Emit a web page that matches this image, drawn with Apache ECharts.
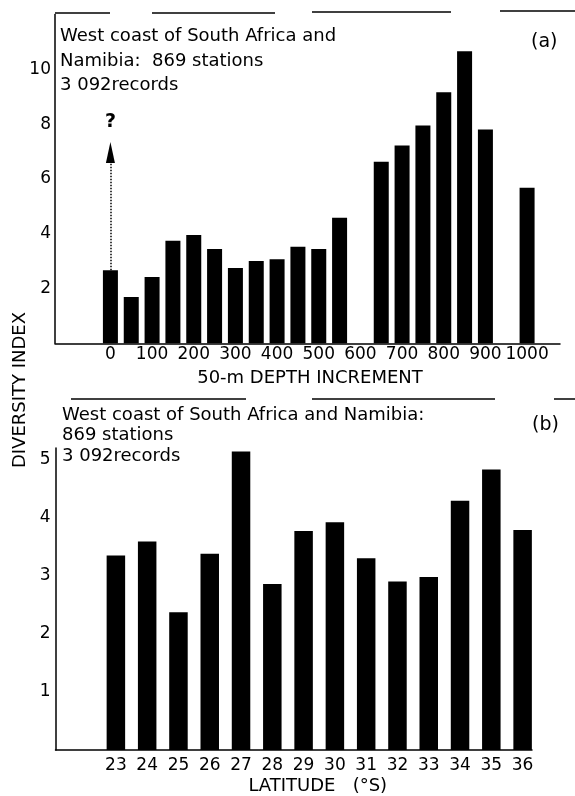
<!DOCTYPE html>
<html>
<head>
<meta charset="utf-8">
<script src="https://cdn.jsdelivr.net/npm/echarts@6/dist/echarts.min.js"></script>
<style>
  html, body { margin: 0; padding: 0; background: #fff; }
  #chart { width: 575px; height: 796px; }
</style>
</head>
<body>
<div id="chart"></div>
<script>
// (a) diversity index per 50-m depth increment
const depths = [0, 50, 100, 150, 200, 250, 300, 350, 400, 450, 500, 550, 600, 650, 700, 750, 800, 850, 900, 950, 1000]
const depthIndex = [2.67, 1.69, 2.42, 3.74, 3.95, 3.44, 2.75, 3.0, 3.07, 3.52, 3.44, 4.58, null, 6.63, 7.22, 7.95, 9.16, 10.66, 7.8, null, 5.68]
const depthLabels = [0, 100, 200, 300, 400, 500, 600, 700, 800, 900, 1000]
const depthYLabels = [2, 4, 6, 8, 10]
const arrowTop = 7.35 // the "?" arrow above the first bar

// (b) diversity index per degree of latitude
const latitudes = [23, 24, 25, 26, 27, 28, 29, 30, 31, 32, 33, 34, 35, 36]
const latIndex = [3.35, 3.59, 2.37, 3.38, 5.14, 2.86, 3.77, 3.92, 3.3, 2.9, 2.98, 4.29, 4.83, 3.79]
const latYLabels = [1, 2, 3, 4, 5]

const FONT = 'DejaVu Sans'
const black = '#000'

const chart = echarts.init(document.getElementById('chart'))

function pairs(xs, ys) {
  return xs.map((x, i) => [x, ys[i]]).filter(p => p[1] != null)
}

function axisLine() {
  return { show: true, onZero: false, lineStyle: { color: black, width: 1.5 } }
}

function label(margin) {
  return { color: black, fontFamily: FONT, fontSize: 17, margin: margin, formatter: v => String(v) }
}

function txt(text, x, y, size, extra) {
  return {
    type: 'text', x: x, y: y, silent: true,
    style: Object.assign({ text: text, font: size + 'px "' + FONT + '"', fill: black, verticalAlign: 'middle' }, extra || {})
  }
}

function seg(x1, y1, x2, y2) {
  return { type: 'line', silent: true, shape: { x1: x1, y1: y1, x2: x2, y2: y2 }, style: { stroke: black, lineWidth: 1.5 } }
}

const yTitle = txt('DIVERSITY INDEX', 20, 390, 18, { align: 'center' })
yTitle.rotation = Math.PI / 2

chart.setOption({
  animation: false,
  backgroundColor: '#fff',
  grid: [
    { left: 55, right: 15, top: 14.5, bottom: 452.7 },
    { left: 55.5, right: 43, top: 448, bottom: 42.7 }
  ],
  xAxis: [{
    gridIndex: 0,
    type: 'value',
    min: -133,
    max: 1079,
    axisLine: axisLine(),
    axisTick: { show: false },
    splitLine: { show: false },
    axisLabel: Object.assign(label(3), { customValues: depthLabels }),
    name: '50-m DEPTH INCREMENT',
    nameLocation: 'middle',
    nameGap: 26,
    nameTextStyle: { color: black, fontFamily: FONT, fontSize: 18, padding: [0, 0, 0, 5] }
  }, {
    gridIndex: 1,
    type: 'value',
    min: 21.07,
    max: 36.3,
    axisLine: axisLine(),
    axisTick: { show: false },
    splitLine: { show: false },
    axisLabel: Object.assign(label(7), { customValues: latitudes }),
    name: 'LATITUDE   (\u00b0S)',
    nameLocation: 'middle',
    nameGap: 27,
    nameTextStyle: { color: black, fontFamily: FONT, fontSize: 18, padding: [0, 0, 0, 48] }
  }],
  yAxis: [{
    gridIndex: 0,
    type: 'value',
    min: 0,
    max: 12,
    axisLine: axisLine(),
    axisTick: { show: false },
    splitLine: { show: false },
    axisLabel: Object.assign(label(4), { customValues: depthYLabels })
  }, {
    gridIndex: 1,
    type: 'value',
    min: 0,
    max: 5.2,
    axisLine: axisLine(),
    axisTick: { show: false },
    splitLine: { show: false },
    axisLabel: Object.assign(label(5), { customValues: latYLabels })
  }],
  series: [{
    type: 'bar',
    xAxisIndex: 0,
    yAxisIndex: 0,
    barWidth: 15,
    itemStyle: { color: black },
    data: pairs(depths, depthIndex),
    markLine: {
      silent: true,
      symbol: 'none',
      lineStyle: { color: black, type: 'dotted', width: 1.5 },
      label: { show: false },
      data: [[{ coord: [depths[0], depthIndex[0]] }, { coord: [depths[0], arrowTop - 0.4] }]]
    },
    markPoint: {
      silent: true,
      symbol: 'path://M5,0 L10,20 L0,20 Z',
      symbolSize: [9, 21],
      symbolOffset: [0, '50%'],
      itemStyle: { color: black },
      label: { show: true, position: 'top', formatter: '?', color: black, fontFamily: FONT, fontSize: 19, fontWeight: 'bold', distance: 4, offset: [0, -6] },
      data: [{ coord: [depths[0], arrowTop] }]
    }
  }, {
    type: 'bar',
    xAxisIndex: 1,
    yAxisIndex: 1,
    barWidth: 18.5,
    itemStyle: { color: black },
    data: pairs(latitudes, latIndex)
  }],
  graphic: [
    // broken frame lines from the scan
    seg(55, 13, 110, 13), seg(152, 13, 275, 13), seg(312, 12, 451, 12), seg(500, 11, 575, 11),
    seg(71, 399, 246, 399), seg(312, 399, 495, 399), seg(554, 399, 575, 399),
    txt('West coast of South Africa and', 60, 36, 18),
    txt('Namibia:  869 stations', 60, 61, 18),
    txt('3 092records', 60, 85, 18),
    txt('(a)', 531, 42, 19),
    txt('West coast of South Africa and Namibia:', 62, 415, 18),
    txt('869 stations', 62, 435, 18),
    txt('3 092records', 62, 456, 18),
    txt('(b)', 532, 425, 19),
    yTitle
  ]
})
</script>
</body>
</html>
